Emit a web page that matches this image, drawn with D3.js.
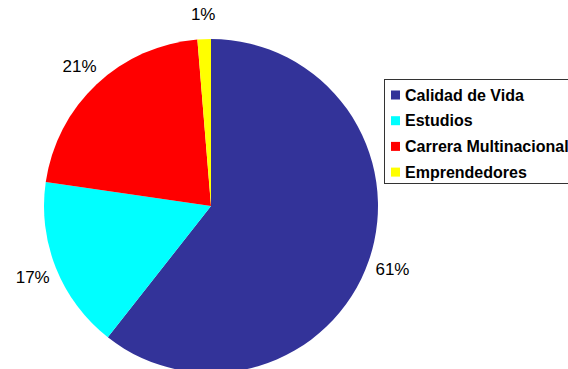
<!DOCTYPE html>
<html>
<head>
<meta charset="utf-8">
<script src="https://cdn.jsdelivr.net/npm/d3@7"></script>
<style>
  body { margin: 0; background: #fff; }
  svg { display: block; font-family: "Liberation Sans", Arial, sans-serif; }
</style>
</head>
<body>
<svg id="chart" width="568" height="369"></svg>
<script>
const categories = ['Calidad de Vida', 'Estudios', 'Carrera Multinacional', 'Emprendedores'];
const values = [60.6, 16.7, 21.4, 1.3];
const labels = ['61%', '17%', '21%', '1%'];
const colors = ['#333399', '#00FFFF', '#FF0000', '#FFFF00'];

const svg = d3.select('#chart');
const cx = 211, cy = 206, radius = 167;

const data = categories.map((c, i) => ({ name: c, value: values[i], label: labels[i], color: colors[i] }));

const pie = d3.pie().sort(null).value(d => d.value);
const arcs = pie(data);
const arc = d3.arc().innerRadius(0).outerRadius(radius);
const labelArc = d3.arc().innerRadius(192).outerRadius(192);

const g = svg.append('g').attr('transform', `translate(${cx},${cy})`);

g.selectAll('path')
    .data(arcs)
    .enter()
    .append('path')
    .attr('d', arc)
    .style('fill', d => d.data.color);

g.selectAll('.lbl')
    .data(arcs)
    .enter()
    .append('text')
    .attr('class', 'lbl')
    .attr('transform', d => `translate(${labelArc.centroid(d)})`)
    .attr('text-anchor', 'middle')
    .attr('dy', '0.35em')
    .style('font-size', '17px')
    .text(d => d.data.label);

// Legend
const legend = svg.append('g').attr('transform', 'translate(384,79)');
legend.append('rect')
    .attr('x', 0.5).attr('y', 0.5)
    .attr('width', 220).attr('height', 104)
    .style('fill', '#fff')
    .style('stroke', '#333')
    .style('stroke-width', 1);

const items = legend.selectAll('.item')
    .data(data)
    .enter()
    .append('g')
    .attr('class', 'item')
    .attr('transform', (d, i) => `translate(7,${16 + i * 25.7})`);

items.append('rect')
    .attr('x', 0).attr('y', -4.5)
    .attr('width', 9).attr('height', 9)
    .style('fill', d => d.color);

items.append('text')
    .attr('x', 14)
    .attr('dy', '0.35em')
    .style('font-size', '16px')
    .style('font-weight', 'bold')
    .text(d => d.name);
</script>
</body>
</html>
